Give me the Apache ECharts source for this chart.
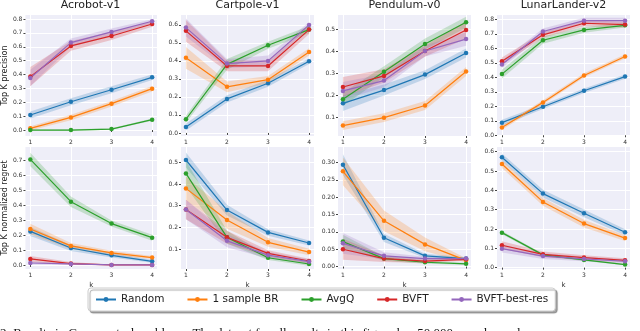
<!DOCTYPE html>
<html>
<head>
<meta charset="utf-8">
<script src="https://cdn.jsdelivr.net/npm/echarts@6/dist/echarts.min.js"></script>
<style>
  html, body { margin: 0; padding: 0; background: #fff; }
  #main { width: 640px; height: 331px; }
</style>
</head>
<body>
<div id="main"></div>
<script>
var envs = ["Acrobot-v1", "Cartpole-v1", "Pendulum-v0", "LunarLander-v2"];
var methods = ["Random", "1 sample BR", "AvgQ", "BVFT", "BVFT-best-res"];
var colors = ["#1f77b4", "#ff7f0e", "#2ca02c", "#d62728", "#9467bd"];
var bandColors = ["rgba(31,119,180,0.22)", "rgba(255,127,14,0.22)", "rgba(44,160,44,0.22)", "rgba(214,39,40,0.22)", "rgba(148,103,189,0.22)"];
var kValues = [1, 2, 3, 4];

// top K precision, one row per method (Random, 1 sample BR, AvgQ, BVFT, BVFT-best-res)
var acrobotPrec = [[0.108, 0.204, 0.29, 0.38], [0.012, 0.091, 0.19, 0.298], [0.0, 0.0, 0.007, 0.075], [0.385, 0.606, 0.678, 0.764], [0.375, 0.63, 0.707, 0.784]];
var acrobotPrecErr = [[0.025, 0.025, 0.025, 0.02], [0.015, 0.02, 0.02, 0.02], [0.004, 0.006, 0.005, 0.008], [0.07, 0.035, 0.03, 0.02], [0.06, 0.03, 0.025, 0.015]];
var cartpolePrec = [[0.033, 0.189, 0.276, 0.398], [0.417, 0.256, 0.296, 0.45], [0.076, 0.381, 0.487, 0.574], [0.567, 0.372, 0.372, 0.574], [0.585, 0.385, 0.4, 0.6]];
var cartpolePrecErr = [[0.02, 0.02, 0.02, 0.015], [0.06, 0.03, 0.02, 0.02], [0.02, 0.03, 0.02, 0.02], [0.06, 0.03, 0.03, 0.025], [0.05, 0.025, 0.03, 0.015]];
var pendulumPrec = [[0.165, 0.225, 0.295, 0.393], [0.064, 0.1, 0.155, 0.309], [0.183, 0.308, 0.434, 0.532], [0.239, 0.289, 0.402, 0.497], [0.221, 0.268, 0.402, 0.456]];
var pendulumPrecErr = [[0.035, 0.025, 0.02, 0.02], [0.02, 0.02, 0.02, 0.02], [0.03, 0.025, 0.025, 0.025], [0.045, 0.03, 0.025, 0.04], [0.04, 0.03, 0.025, 0.03]];
var lunarPrec = [[0.087, 0.197, 0.307, 0.405], [0.053, 0.227, 0.413, 0.544], [0.422, 0.656, 0.727, 0.759], [0.511, 0.693, 0.773, 0.764], [0.489, 0.716, 0.791, 0.791]];
var lunarPrecErr = [[0.02, 0.015, 0.015, 0.015], [0.015, 0.015, 0.015, 0.015], [0.03, 0.025, 0.02, 0.015], [0.025, 0.02, 0.02, 0.02], [0.025, 0.02, 0.02, 0.02]];

// top K normalized regret
var acrobotRegret = [[0.224, 0.113, 0.064, 0.024], [0.24, 0.127, 0.08, 0.049], [0.704, 0.422, 0.276, 0.182], [0.04, 0.009, 0.0, 0.0], [0.013, 0.007, 0.0, 0.0]];
var acrobotRegretErr = [[0.03, 0.02, 0.015, 0.01], [0.035, 0.02, 0.015, 0.01], [0.045, 0.035, 0.02, 0.02], [0.02, 0.01, 0.002, 0.002], [0.01, 0.005, 0.002, 0.002]];
var cartpoleRegret = [[0.511, 0.28, 0.177, 0.128], [0.38, 0.234, 0.131, 0.086], [0.449, 0.154, 0.06, 0.031], [0.283, 0.154, 0.08, 0.045], [0.283, 0.138, 0.072, 0.042]];
var cartpoleRegretErr = [[0.035, 0.025, 0.015, 0.012], [0.055, 0.04, 0.02, 0.015], [0.06, 0.03, 0.01, 0.008], [0.045, 0.03, 0.015, 0.01], [0.045, 0.03, 0.015, 0.01]];
var pendulumRegret = [[0.294, 0.083, 0.031, 0.023], [0.275, 0.132, 0.064, 0.018], [0.072, 0.023, 0.0125, 0.008], [0.05, 0.023, 0.016, 0.021], [0.067, 0.031, 0.023, 0.023]];
var pendulumRegretErr = [[0.03, 0.012, 0.006, 0.004], [0.04, 0.03, 0.02, 0.006], [0.02, 0.006, 0.004, 0.003], [0.03, 0.01, 0.006, 0.004], [0.03, 0.01, 0.005, 0.004]];
var lunarRegret = [[0.571, 0.383, 0.281, 0.183], [0.536, 0.34, 0.228, 0.153], [0.181, 0.066, 0.04, 0.016], [0.116, 0.069, 0.052, 0.038], [0.098, 0.06, 0.045, 0.033]];
var lunarRegretErr = [[0.02, 0.02, 0.02, 0.015], [0.02, 0.02, 0.02, 0.015], [0.008, 0.006, 0.005, 0.004], [0.02, 0.015, 0.012, 0.01], [0.02, 0.015, 0.012, 0.01]];

// y tick labels of each panel
var precTicks = [
  [0.0, 0.1, 0.2, 0.3, 0.4, 0.5, 0.6, 0.7, 0.8],
  [0.0, 0.1, 0.2, 0.3, 0.4, 0.5, 0.6],
  [0.1, 0.2, 0.3, 0.4, 0.5],
  [0.0, 0.1, 0.2, 0.3, 0.4, 0.5, 0.6, 0.7, 0.8]
];
var regretTicks = [
  [0.0, 0.1, 0.2, 0.3, 0.4, 0.5, 0.6, 0.7],
  [0.1, 0.2, 0.3, 0.4, 0.5],
  [0.0, 0.05, 0.1, 0.15, 0.2, 0.25, 0.3],
  [0.0, 0.1, 0.2, 0.3, 0.4, 0.5, 0.6]
];
var precRange = [[-0.043, 0.829], [-0.017, 0.655], [0.017, 0.565], [-0.005, 0.83]];
var regretRange = [[-0.027, 0.787], [0.008, 0.571], [-0.007, 0.345], [-0.007, 0.624]];
var regretDigits = [1, 1, 2, 1];

var precData = [acrobotPrec, cartpolePrec, pendulumPrec, lunarPrec];
var precErr = [acrobotPrecErr, cartpolePrecErr, pendulumPrecErr, lunarPrecErr];
var regretData = [acrobotRegret, cartpoleRegret, pendulumRegret, lunarRegret];
var regretErr = [acrobotRegretErr, cartpoleRegretErr, pendulumRegretErr, lunarRegretErr];

var colLeft = [24, 181, 338, 497];
var rowTop = [15, 147];
var rowHeight = [121, 122];
var plotWidth = 133;
var font = "DejaVu Sans";

var dom = document.getElementById("main");
var myChart = echarts.init(dom, null, { renderer: "canvas" });

function bandRender(lo, hi, fill) {
  return function (params, api) {
    if (params.dataIndex !== 0) return null;
    var pts = [];
    for (var i = 0; i < kValues.length; i++) pts.push(api.coord([kValues[i], hi[i]]));
    for (var j = kValues.length - 1; j >= 0; j--) pts.push(api.coord([kValues[j], lo[j]]));
    return { type: "polygon", shape: { points: pts }, style: { fill: fill } };
  };
}

var grids = [], xAxes = [], yAxes = [], series = [], titles = [];

for (var r = 0; r < 2; r++) {
  for (var c = 0; c < 4; c++) {
    var idx = r * 4 + c;
    grids.push({ left: colLeft[c], top: rowTop[r], width: plotWidth, height: rowHeight[r],
      show: true, backgroundColor: "#eeeef8", borderWidth: 0 });
    xAxes.push({
      type: "value", gridIndex: idx, min: 0.88, max: 4.12,
      name: r === 1 ? "k" : "", nameLocation: "middle", nameGap: 13,
      nameTextStyle: { fontSize: 7, fontFamily: font, color: "#333" },
      axisLine: { show: false },
      axisTick: { show: true, length: 2, customValues: kValues, lineStyle: { color: "#444" } },
      axisLabel: { customValues: kValues, fontSize: 6, fontFamily: font, color: "#333", margin: 3 },
      splitLine: { show: true, lineStyle: { color: "#fff", width: 1 } }
    });
    var ticks = r === 0 ? precTicks[c] : regretTicks[c];
    var range = r === 0 ? precRange[c] : regretRange[c];
    var digits = r === 0 ? 1 : regretDigits[c];
    yAxes.push({
      type: "value", gridIndex: idx, min: range[0], max: range[1],
      name: c === 0 ? (r === 0 ? "Top K precision" : "Top K normalized regret") : "",
      nameLocation: "middle", nameGap: 16,
      nameTextStyle: { fontSize: 8, fontFamily: font, color: "#222" },
      axisLine: { show: false },
      axisTick: { show: true, length: 2, customValues: ticks, lineStyle: { color: "#444" } },
      axisLabel: { customValues: ticks, fontSize: 6, fontFamily: font, color: "#333", margin: 3,
        formatter: (function (d) { return function (v) { return v.toFixed(d); }; })(digits) },
      splitLine: { show: true, lineStyle: { color: "#fff", width: 1 } }
    });

    var means = r === 0 ? precData[c] : regretData[c];
    var errs = r === 0 ? precErr[c] : regretErr[c];
    for (var m = 0; m < methods.length; m++) {
      var mean = means[m], err = errs[m];
      var lo = mean.map(function (v, i) { return v - err[i]; });
      var hi = mean.map(function (v, i) { return v + err[i]; });
      var pts = kValues.map(function (k, i) { return [k, mean[i]]; });
      series.push({
        type: "custom", xAxisIndex: idx, yAxisIndex: idx, clip: true, z: 1, silent: true,
        renderItem: bandRender(lo, hi, bandColors[m]),
        encode: { x: 0, y: 1 }, data: pts
      });
      series.push({
        type: "line", name: methods[m], xAxisIndex: idx, yAxisIndex: idx, z: 3,
        data: pts, symbol: "circle", symbolSize: 4.5, showSymbol: true,
        lineStyle: { color: colors[m], width: 1.2 },
        itemStyle: { color: colors[m] },
        emphasis: { disabled: true }
      });
    }
  }
}

for (var t = 0; t < 4; t++) {
  titles.push({ text: envs[t], left: colLeft[t] + plotWidth / 2, top: 0, textAlign: "center", padding: 0,
    textStyle: { fontSize: 11, fontWeight: "normal", fontFamily: font, color: "#222" } });
}

var option = {
  animation: false,
  title: titles,
  legend: {
    data: methods, left: 88, top: 288, itemWidth: 20, itemHeight: 6, itemGap: 22,
    padding: [6, 7, 6, 7],
    textStyle: { fontSize: 10.5, fontFamily: font, color: "#222" },
    backgroundColor: "#fff", borderColor: "#ccc", borderWidth: 1, borderRadius: 3,
    shadowColor: "rgba(0,0,0,0.35)", shadowOffsetX: 2, shadowOffsetY: 2, shadowBlur: 1
  },
  grid: grids,
  xAxis: xAxes,
  yAxis: yAxes,
  series: series,
  graphic: [{
    type: "text", left: 0, top: 327,
    style: { text: "2: Results in Gym control problems. The dataset for all results in this figure has 50,000 samples and",
      font: "13px 'Liberation Serif'", fill: "#111" }
  }]
};

myChart.setOption(option);
</script>
</body>
</html>
